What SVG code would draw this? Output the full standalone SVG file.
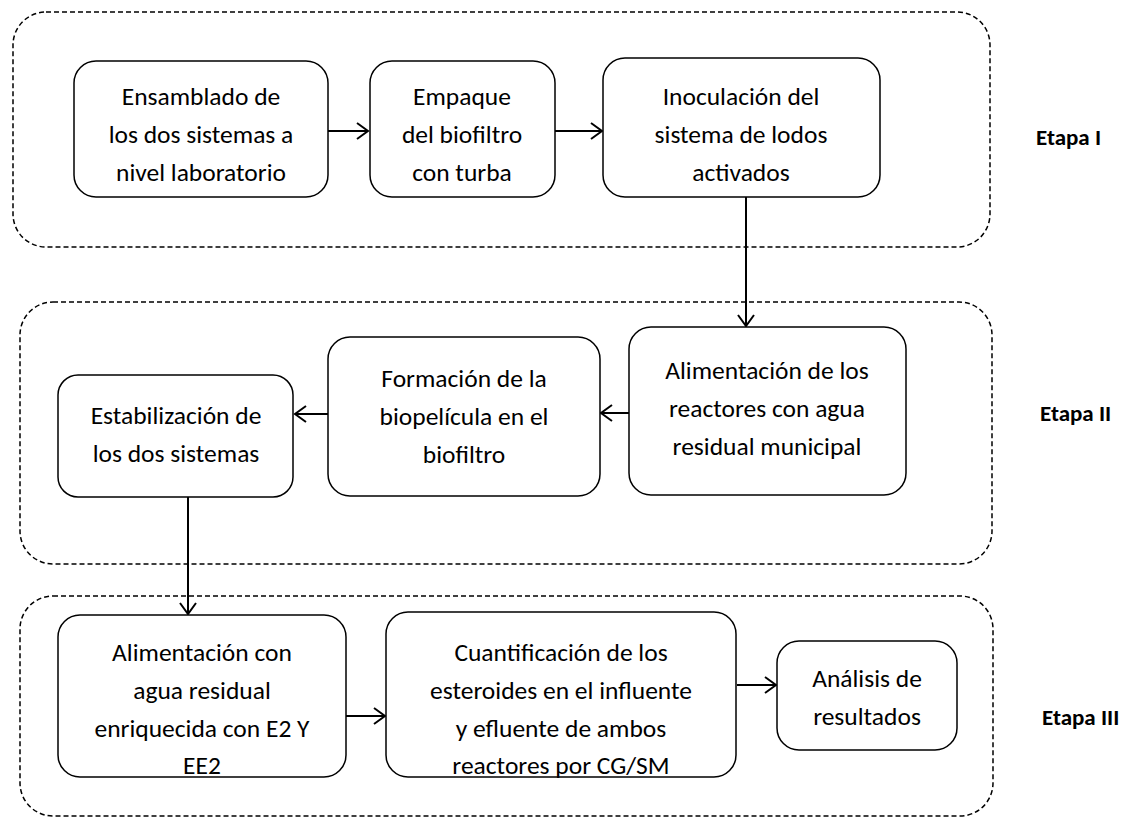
<svg xmlns="http://www.w3.org/2000/svg" width="1147" height="830" viewBox="0 0 1147 830">
<style>
.stage{fill:none;stroke:#000;stroke-width:1.5;stroke-dasharray:5 3}
.node{fill:#fff;stroke:#000;stroke-width:1.5}
.t{font-family:Carlito,Lato,"Liberation Sans",sans-serif;font-size:25.5px;fill:#000;text-anchor:middle}
.lbl{font-family:Carlito,Lato,"Liberation Sans",sans-serif;font-size:23px;font-weight:bold;fill:#000}
.edge{fill:none;stroke:#000;stroke-width:2;marker-end:url(#ah)}
</style>
<defs>
<marker id="ah" markerWidth="14" markerHeight="18" refX="12" refY="9" orient="auto" markerUnits="userSpaceOnUse">
<path d="M1,1 L12,9 L1,17" fill="none" stroke="#000" stroke-width="2"/>
</marker>
</defs>
<rect width="1147" height="830" fill="#fff"/>
<g id="stages">
<rect class="stage" x="13" y="12" width="977" height="235" rx="33"/>
<rect class="stage" x="20" y="302" width="972" height="262" rx="33"/>
<rect class="stage" x="20" y="596" width="973" height="220" rx="33"/>
<text class="lbl" x="1036" y="145">Etapa I</text>
<text class="lbl" x="1040" y="421">Etapa II</text>
<text class="lbl" x="1042" y="725">Etapa III</text>
</g>
<g id="connectors">
<line class="edge" x1="328" y1="131" x2="368" y2="131"/>
<line class="edge" x1="555" y1="131" x2="602" y2="131"/>
<line class="edge" x1="746" y1="197" x2="746" y2="326"/>
<line class="edge" x1="629" y1="413" x2="601" y2="413"/>
<line class="edge" x1="328" y1="414" x2="295" y2="414"/>
<line class="edge" x1="188" y1="497" x2="188" y2="614"/>
<line class="edge" x1="346" y1="716" x2="385" y2="716"/>
<line class="edge" x1="737" y1="685" x2="776" y2="685"/>
</g>
<g id="n1">
<rect class="node" x="74" y="61" width="254" height="136" rx="22"/>
<text class="t" x="201" y="105">Ensamblado de</text>
<text class="t" x="201" y="143">los dos sistemas a</text>
<text class="t" x="201" y="181">nivel laboratorio</text>
</g>
<g id="n2">
<rect class="node" x="370" y="61" width="185" height="136" rx="22"/>
<text class="t" x="462" y="105">Empaque</text>
<text class="t" x="462" y="143">del biofiltro</text>
<text class="t" x="462" y="181">con turba</text>
</g>
<g id="n3">
<rect class="node" x="603" y="58" width="277" height="139" rx="22"/>
<text class="t" x="741" y="105">Inoculación del</text>
<text class="t" x="741" y="143">sistema de lodos</text>
<text class="t" x="741" y="181">activados</text>
</g>
<g id="n4">
<rect class="node" x="629" y="327" width="277" height="168" rx="22"/>
<text class="t" x="767" y="379">Alimentación de los</text>
<text class="t" x="767" y="417">reactores con agua</text>
<text class="t" x="767" y="455">residual municipal</text>
</g>
<g id="n5">
<rect class="node" x="328" y="337" width="272" height="159" rx="22"/>
<text class="t" x="464" y="387">Formación de la</text>
<text class="t" x="464" y="425">biopelícula en el</text>
<text class="t" x="464" y="463">biofiltro</text>
</g>
<g id="n6">
<rect class="node" x="58" y="375" width="235" height="122" rx="20"/>
<text class="t" x="176" y="424">Estabilización de</text>
<text class="t" x="176" y="462">los dos sistemas</text>
</g>
<g id="n7">
<rect class="node" x="58" y="615" width="288" height="162" rx="22"/>
<text class="t" x="202" y="661">Alimentación con</text>
<text class="t" x="202" y="699">agua residual</text>
<text class="t" x="202" y="737">enriquecida con E2 Y</text>
<text class="t" x="202" y="774">EE2</text>
</g>
<g id="n8">
<rect class="node" x="386" y="612" width="350" height="165" rx="22"/>
<text class="t" x="561" y="661">Cuantificación de los</text>
<text class="t" x="561" y="699">esteroides en el influente</text>
<text class="t" x="561" y="737">y efluente de ambos</text>
<text class="t" x="561" y="774">reactores por CG/SM</text>
</g>
<g id="n9">
<rect class="node" x="777" y="641" width="180" height="109" rx="22"/>
<text class="t" x="867" y="687">Análisis de</text>
<text class="t" x="867" y="725">resultados</text>
</g>
</svg>
